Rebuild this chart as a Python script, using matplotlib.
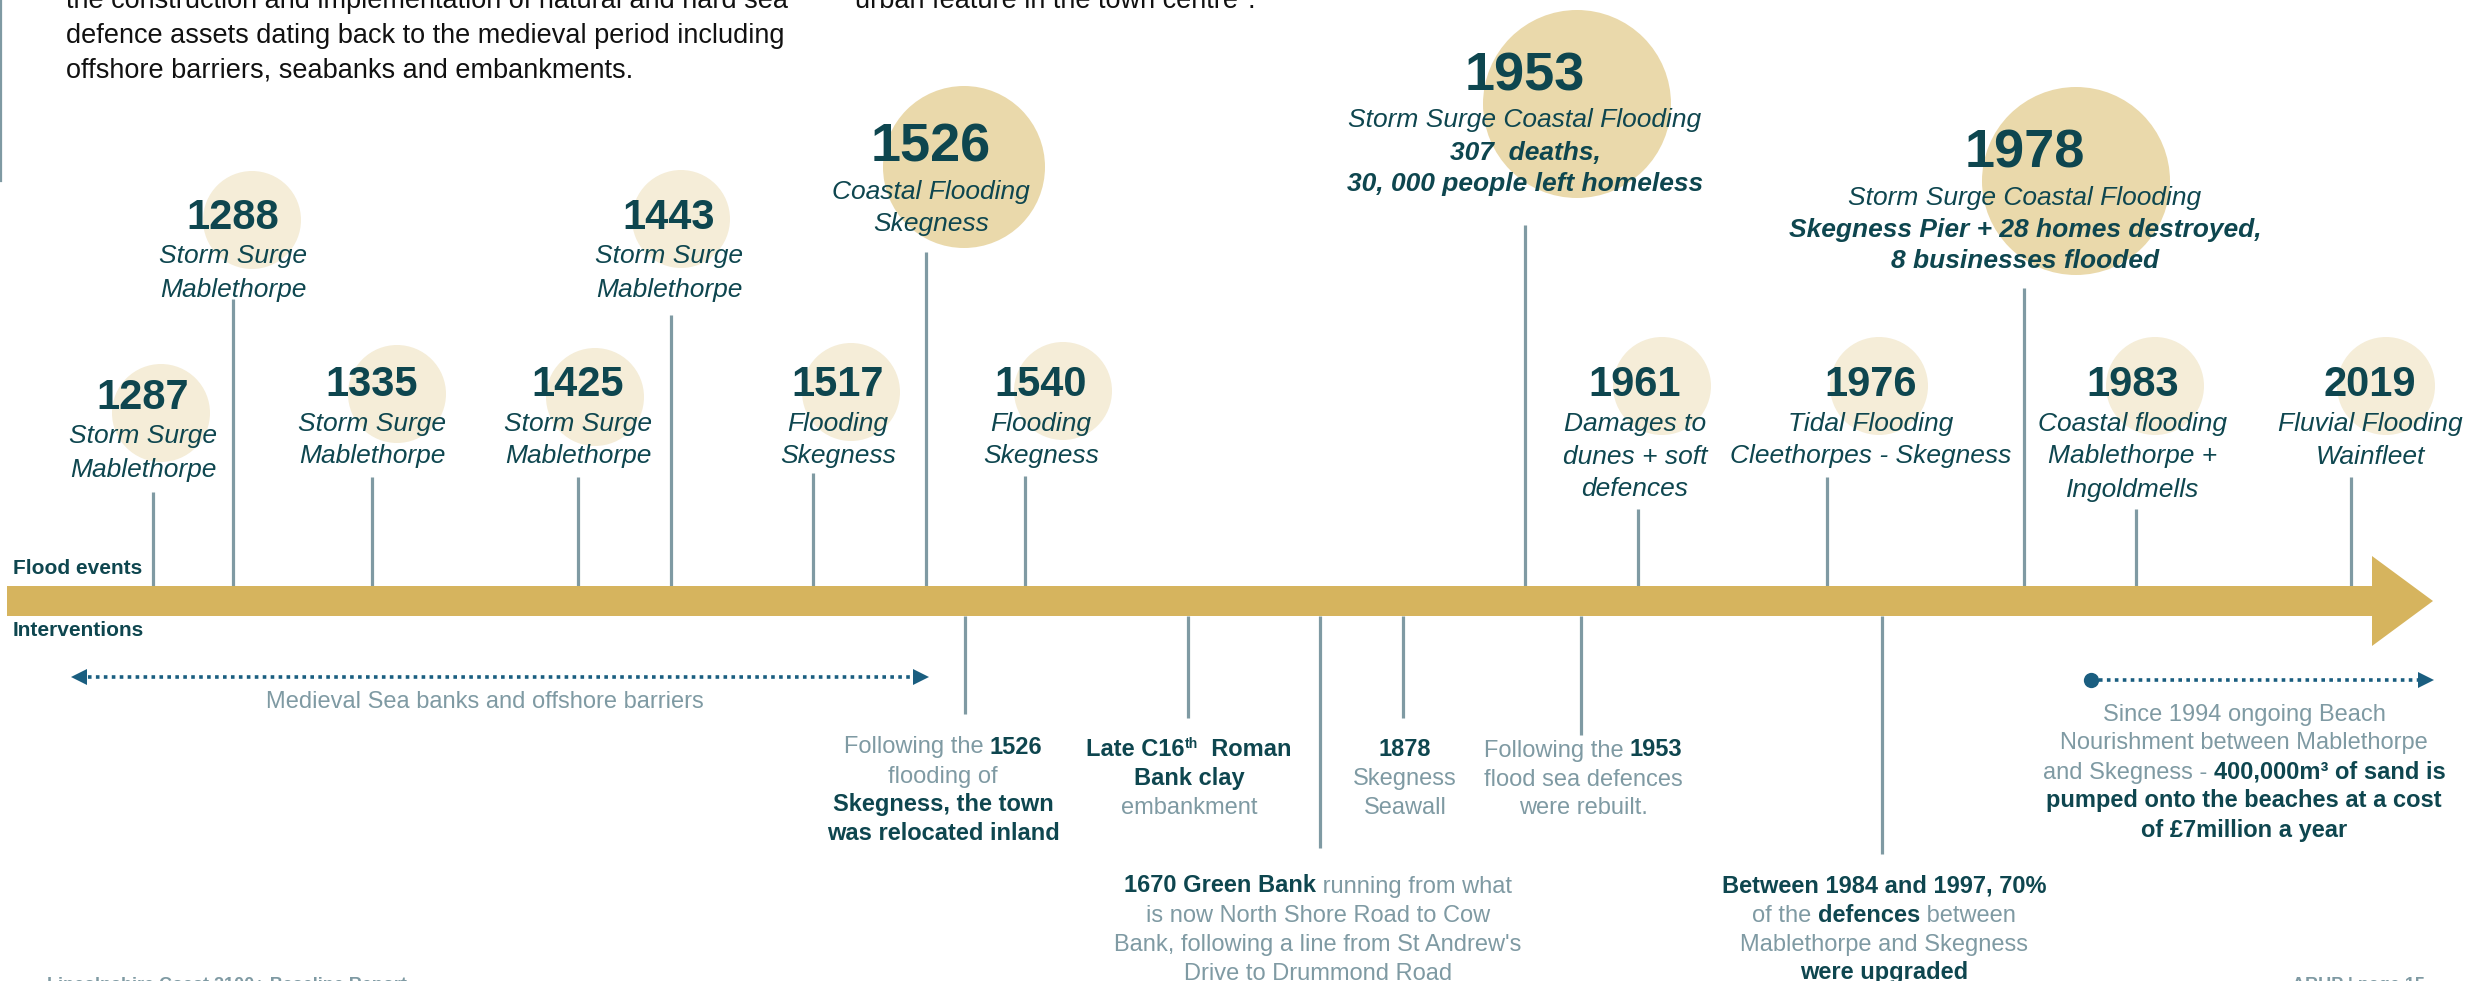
import matplotlib
matplotlib.use("Agg")
import matplotlib.pyplot as plt
from matplotlib.patches import Circle, FancyArrow

plt.rcParams['font.family'] = ['Liberation Sans', 'DejaVu Sans']

W, H = 2470, 981

DARK = '#0E464F'
GREY = '#7F9AA3'
GOLD = '#D6B45E'
PALE = '#F5EDD8'
SAND = '#EAD9AB'
BLUE = '#1A5E80'

# ---- flood events (above the timeline) ----
flood_years = ['1287', '1288', '1335', '1425', '1443', '1517', '1526',
               '1540', '1953', '1961', '1976', '1978', '1983', '2019']
flood_text = [
    [('Storm Surge', 'i'), ('Mablethorpe', 'i')],
    [('Storm Surge', 'i'), ('Mablethorpe', 'i')],
    [('Storm Surge', 'i'), ('Mablethorpe', 'i')],
    [('Storm Surge', 'i'), ('Mablethorpe', 'i')],
    [('Storm Surge', 'i'), ('Mablethorpe', 'i')],
    [('Flooding', 'i'), ('Skegness', 'i')],
    [('Coastal Flooding', 'i'), ('Skegness', 'i')],
    [('Flooding', 'i'), ('Skegness', 'i')],
    [('Storm Surge Coastal Flooding', 'i'), ('307  deaths,', 'bi'),
     ('30, 000 people left homeless', 'bi')],
    [('Damages to', 'i'), ('dunes + soft', 'i'), ('defences', 'i')],
    [('Tidal Flooding', 'i'), ('Cleethorpes - Skegness', 'i')],
    [('Storm Surge Coastal Flooding', 'i'),
     ('Skegness Pier + 28 homes destroyed,', 'bi'), ('8 businesses flooded', 'bi')],
    [('Coastal flooding', 'i'), ('Mablethorpe +', 'i'), ('Ingoldmells', 'i')],
    [('Fluvial Flooding', 'i'), ('Wainfleet', 'i')],
]
major_years = ['1526', '1953', '1978']

# layout of the flood events (pixels)
stem_x = [153, 233, 372, 578, 671, 813, 926, 1025, 1525, 1638, 1827, 2024, 2136, 2351]
stem_top = [492, 299, 477, 477, 315, 473, 252, 476, 225, 509, 477, 288, 509, 477]
label_x = [143, 233, 372, 578, 669, 838, 931, 1041, 1525, 1635, 1871, 2025, 2133, 2370]
year_y = [394, 214, 381, 381, 214, 381, 142, 381, 71, 381, 381, 148, 381, 381]
circ_x = [161, 252, 397, 595, 681, 851, 964, 1063, 1577, 1662, 1879, 2076, 2155, 2386]
circ_y = [413, 220, 394, 397, 219, 392, 167, 391, 104, 386, 386, 181, 386, 386]
circ_r = [49, 49, 49, 49, 49, 49, 81, 49, 94, 49, 49, 94, 49, 49]

# ---- interventions (below the timeline) ----
interv_text = [
    [[('Following the ', 'n'), ('1526', 'b')], [('flooding of', 'n')],
     [('Skegness, the town', 'b')], [('was relocated inland', 'b')]],
    [[('Late C16', 'b'), ('th', 's'), ('  Roman', 'b')], [('Bank clay', 'b')],
     [('embankment', 'n')]],
    [[('1670 Green Bank', 'b'), (' running from what', 'n')],
     [('is now North Shore Road to Cow', 'n')],
     [("Bank, following a line from St Andrew's", 'n')],
     [('Drive to Drummond Road', 'n')]],
    [[('1878', 'b')], [('Skegness', 'n')], [('Seawall', 'n')]],
    [[('Following the ', 'n'), ('1953', 'b')], [('flood sea defences', 'n')],
     [('were rebuilt.', 'n')]],
    [[('Between 1984 and 1997, 70%', 'b')],
     [('of the ', 'n'), ('defences', 'b'), (' between', 'n')],
     [('Mablethorpe and Skegness', 'n')], [('were upgraded', 'b')]],
    [[('Since 1994 ongoing Beach', 'n')], [('Nourishment between Mablethorpe', 'n')],
     [('and Skegness - ', 'n'), ('400,000m³ of sand is', 'b')],
     [('pumped onto the beaches at a cost', 'b')], [('of £7million a year', 'b')]],
]
medieval_label = 'Medieval Sea banks and offshore barriers'

interv_x = [943, 1189, 1318, 1405, 1583, 1884, 2244]
interv_y = [745, 748, 884, 748, 748, 884, 712]
interv_stem_x = [965, 1188, 1320, 1403, 1581, 1882]
interv_stem_end = [714, 718, 848, 718, 735, 854]

intro_lines = ['the construction and implementation of natural and hard sea',
               'defence assets dating back to the medieval period including',
               'offshore barriers, seabanks and embankments.']

BAR_TOP, BAR_BOT = 586, 616

fig = plt.figure(figsize=(W / 100, H / 100), dpi=100)
ax = fig.add_axes([0, 0, 1, 1])
ax.set_xlim(0, W)
ax.set_ylim(H, 0)
ax.axis('off')
fig.canvas.draw()
renderer = fig.canvas.get_renderer()
PX = 100 / 72

STYLES = {
    'n': dict(color=GREY),
    'b': dict(color=DARK, fontweight='bold'),
    's': dict(color=DARK, fontweight='bold'),
    'i': dict(color=DARK, fontstyle='italic'),
    'bi': dict(color=DARK, fontstyle='italic', fontweight='bold'),
    'y': dict(color=DARK, fontweight='bold'),
    'k': dict(color='#111111'),
    'ks': dict(color='#111111'),
}


def text_w(s, kw):
    t = ax.text(0, 0, '|' + s + '|', **kw)
    w = t.get_window_extent(renderer).width
    t.set_text('||')
    w -= t.get_window_extent(renderer).width
    t.remove()
    return w


def rich_line(x, yc, parts, size, ha='center'):
    pieces = []
    total = 0
    for txt, kind in parts:
        sup = kind in ('s', 'ks')
        kw = dict(STYLES[kind], fontsize=size * 0.6 if sup else size)
        w = text_w(txt, kw)
        pieces.append((txt, sup, kw, w))
        total += w
    x0 = x - total / 2 if ha == 'center' else x
    base = yc + 0.36 * size * PX
    for txt, sup, kw, w in pieces:
        yy = base - (0.36 * size * PX if sup else 0)
        ax.text(x0, yy, txt, ha='left', va='baseline', zorder=5, **kw)
        x0 += w


# left rule and intro text (cut off by the page top, as in the source)
ax.plot([1, 1], [0, 181], color=GREY, lw=1.6)
for i, line in enumerate(intro_lines):
    rich_line(66, -2 + 35 * i, [(line, 'k')], 19.5, ha='left')
rich_line(855, -2, [('urban feature in the town centre', 'k'), ('5', 'ks'), ('.', 'k')],
          19.5, ha='left')

# circles behind the years
for i, yr in enumerate(flood_years):
    col = SAND if yr in major_years else PALE
    ax.add_patch(Circle((circ_x[i], circ_y[i]), circ_r[i], color=col, lw=0, zorder=1))

# stems
ax.vlines(stem_x, stem_top, BAR_TOP, color=GREY, lw=2.3, zorder=2)
ax.vlines(interv_stem_x, BAR_BOT, interv_stem_end, color=GREY, lw=2.3, zorder=2)

# main arrow
ax.add_patch(FancyArrow(7, (BAR_TOP + BAR_BOT) / 2, 2426, 0, width=BAR_BOT - BAR_TOP,
                        head_width=90, head_length=61, length_includes_head=True,
                        color=GOLD, lw=0, zorder=3))

ax.text(13, 568, 'Flood events', fontsize=15, fontweight='bold', color=DARK,
        va='center', ha='left')
ax.text(13, 631, 'Interventions', fontsize=15, fontweight='bold', color=DARK,
        va='center', ha='left')

# flood labels
for i, yr in enumerate(flood_years):
    big = yr in major_years
    ysz = 39 if big else 30
    rich_line(label_x[i], year_y[i], [(yr, 'y')], ysz)
    y0 = year_y[i] + (47 if big else 40)
    gap = 32 if big else 33
    for j, (txt, kind) in enumerate(flood_text[i]):
        rich_line(label_x[i], y0 + gap * j, [(txt, kind)], 19)

# intervention labels
for i, lines in enumerate(interv_text):
    for j, parts in enumerate(lines):
        rich_line(interv_x[i], interv_y[i] + 29 * j, parts, 17)

# medieval period dotted double arrow
ax.plot([80, 920], [677, 677], color=BLUE, lw=2.6, ls=(0, (1, 1.2)))
ax.plot([79], [677], marker='<', color=BLUE, ms=11, mew=0)
ax.plot([921], [677], marker='>', color=BLUE, ms=11, mew=0)
rich_line(485, 699, [(medieval_label, 'n')], 17)

# beach nourishment dotted arrow
ax.plot([2091, 2424], [680, 680], color=BLUE, lw=2.6, ls=(0, (1, 1.2)))
ax.plot([2091], [680], marker='o', color=BLUE, ms=11, mew=0)
ax.plot([2426], [680], marker='>', color=BLUE, ms=11, mew=0)

# footer (cut off at page edge)
ax.text(47, 977, 'Lincolnshire Coast 2100+ Baseline Report', fontsize=13,
        color=GREY, fontweight='bold', ha='left', va='top')
ax.text(2425, 977, 'ARUP | page 15', fontsize=13, color=GREY, fontweight='bold',
        ha='right', va='top')

fig.savefig('out.png', dpi=100)
